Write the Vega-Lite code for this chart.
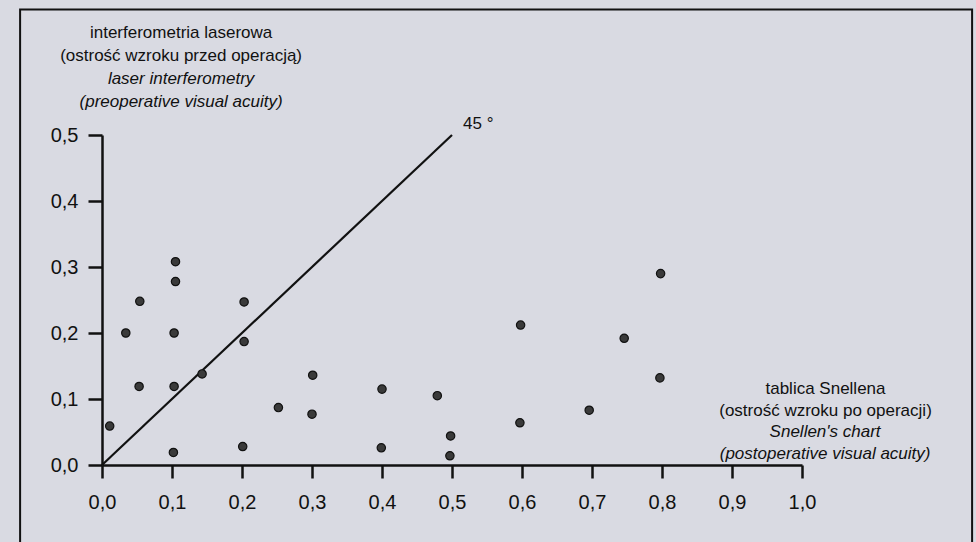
{
  "$schema": "https://vega.github.io/schema/vega-lite/v6.json",
  "width": 700,
  "height": 330,
  "autosize": "none",
  "padding": {"left": 102, "top": 135, "right": 174, "bottom": 77},
  "background": "#d9dae2",
  "config": {
    "view": {"stroke": null},
    "font": "Liberation Sans",
    "axis": {"grid": false}
  },
  "datasets": {
    "points": [
      {"x": 0.011, "y": 0.059},
      {"x": 0.034, "y": 0.2},
      {"x": 0.054, "y": 0.248},
      {"x": 0.053, "y": 0.119},
      {"x": 0.105, "y": 0.308},
      {"x": 0.105, "y": 0.278},
      {"x": 0.103, "y": 0.2},
      {"x": 0.103, "y": 0.119},
      {"x": 0.102, "y": 0.019},
      {"x": 0.143, "y": 0.138},
      {"x": 0.203, "y": 0.247},
      {"x": 0.203, "y": 0.187},
      {"x": 0.201, "y": 0.028},
      {"x": 0.252, "y": 0.087},
      {"x": 0.301, "y": 0.136},
      {"x": 0.3, "y": 0.077},
      {"x": 0.4, "y": 0.115},
      {"x": 0.399, "y": 0.026},
      {"x": 0.479, "y": 0.105},
      {"x": 0.498, "y": 0.044},
      {"x": 0.497, "y": 0.014},
      {"x": 0.598, "y": 0.212},
      {"x": 0.597, "y": 0.064},
      {"x": 0.696, "y": 0.083},
      {"x": 0.746, "y": 0.192},
      {"x": 0.798, "y": 0.29},
      {"x": 0.797, "y": 0.132}
    ],
    "diagonal": [
      {"x": 0, "y": 0, "label": ""},
      {"x": 0.5, "y": 0.5, "label": "45 °"}
    ]
  },
  "encoding": {
    "x": {
      "field": "x",
      "type": "quantitative",
      "scale": {"domain": [0, 1], "nice": false, "zero": false},
      "axis": {
        "values": [0, 0.1, 0.2, 0.3, 0.4, 0.5, 0.6, 0.7, 0.8, 0.9, 1],
        "labelExpr": "replace(format(datum.value, '.1f'), '.', ',')",
        "labelFlush": false,
        "domainColor": "#111111",
        "domainWidth": 2.5,
        "tickColor": "#111111",
        "tickWidth": 2.5,
        "tickSize": 13,
        "labelFontSize": 20,
        "labelColor": "#111111",
        "labelPadding": 14,
        "labelFont": "Liberation Sans",
        "title": ["tablica Snellena", "(ostrość wzroku po operacji)"],
        "titleX": 723,
        "titleY": -72,
        "titleAlign": "center",
        "titleBaseline": "alphabetic",
        "titleAngle": 0,
        "titleFont": "Liberation Sans",
        "titleFontSize": 17,
        "titleFontWeight": "normal",
        "titleColor": "#111111",
        "titleLineHeight": 22
      }
    },
    "y": {
      "field": "y",
      "type": "quantitative",
      "scale": {"domain": [0, 0.5], "nice": false, "zero": false},
      "axis": {
        "values": [0, 0.1, 0.2, 0.3, 0.4, 0.5],
        "labelExpr": "replace(format(datum.value, '.1f'), '.', ',')",
        "labelFlush": false,
        "domainColor": "#111111",
        "domainWidth": 2.5,
        "tickColor": "#111111",
        "tickWidth": 2.5,
        "tickSize": 14,
        "labelFontSize": 20,
        "labelColor": "#111111",
        "labelPadding": 10,
        "labelFont": "Liberation Sans",
        "title": null
      }
    }
  },
  "layer": [
    {
      "data": {"name": "diagonal"},
      "transform": [{"filter": "datum.label != ''"}],
      "mark": {"type": "rect", "filled": false, "fill": null, "stroke": "#111111", "strokeWidth": 2},
      "encoding": {
        "x": {"datum": -0.117, "type": "quantitative"},
        "x2": {"datum": 1.243},
        "y": {"datum": 0.69, "type": "quantitative"},
        "y2": {"datum": -0.2}
      }
    },
    {
      "data": {"name": "diagonal"},
      "mark": {"type": "line", "color": "#111111", "strokeWidth": 2.2}
    },
    {
      "data": {"name": "diagonal"},
      "transform": [{"filter": "datum.label != ''"}],
      "mark": {"type": "text", "align": "left", "baseline": "alphabetic", "dx": 11, "dy": -6, "fontSize": 17, "font": "Liberation Sans", "color": "#111111"},
      "encoding": {"text": {"field": "label"}}
    },
    {
      "data": {"name": "points"},
      "mark": {"type": "point", "shape": "circle", "filled": true, "size": 70, "fill": "#3a3a3a", "stroke": "#111111", "strokeWidth": 1.2, "opacity": 1}
    },
    {
      "data": {"name": "diagonal"},
      "transform": [{"filter": "datum.label != ''"}],
      "mark": {"type": "text", "text": ["interferometria laserowa", "(ostrość wzroku przed operacją)"], "align": "center", "baseline": "alphabetic", "lineHeight": 23, "fontSize": 17, "font": "Liberation Sans", "color": "#111111"},
      "encoding": {
        "x": {"datum": 0.113, "type": "quantitative"},
        "y": {"datum": 0.647, "type": "quantitative"}
      }
    },
    {
      "data": {"name": "diagonal"},
      "transform": [{"filter": "datum.label != ''"}],
      "mark": {"type": "text", "text": ["laser interferometry", "(preoperative visual acuity)"], "fontStyle": "italic", "align": "center", "baseline": "alphabetic", "lineHeight": 23, "fontSize": 17, "font": "Liberation Sans", "color": "#111111"},
      "encoding": {
        "x": {"datum": 0.113, "type": "quantitative"},
        "y": {"datum": 0.577, "type": "quantitative"}
      }
    },
    {
      "data": {"name": "diagonal"},
      "transform": [{"filter": "datum.label != ''"}],
      "mark": {"type": "text", "text": ["Snellen's chart", "(postoperative visual acuity)"], "fontStyle": "italic", "align": "center", "baseline": "alphabetic", "lineHeight": 22, "fontSize": 17, "font": "Liberation Sans", "color": "#111111"},
      "encoding": {
        "x": {"datum": 1.033, "type": "quantitative"},
        "y": {"datum": 0.0424, "type": "quantitative"}
      }
    }
  ]
}
